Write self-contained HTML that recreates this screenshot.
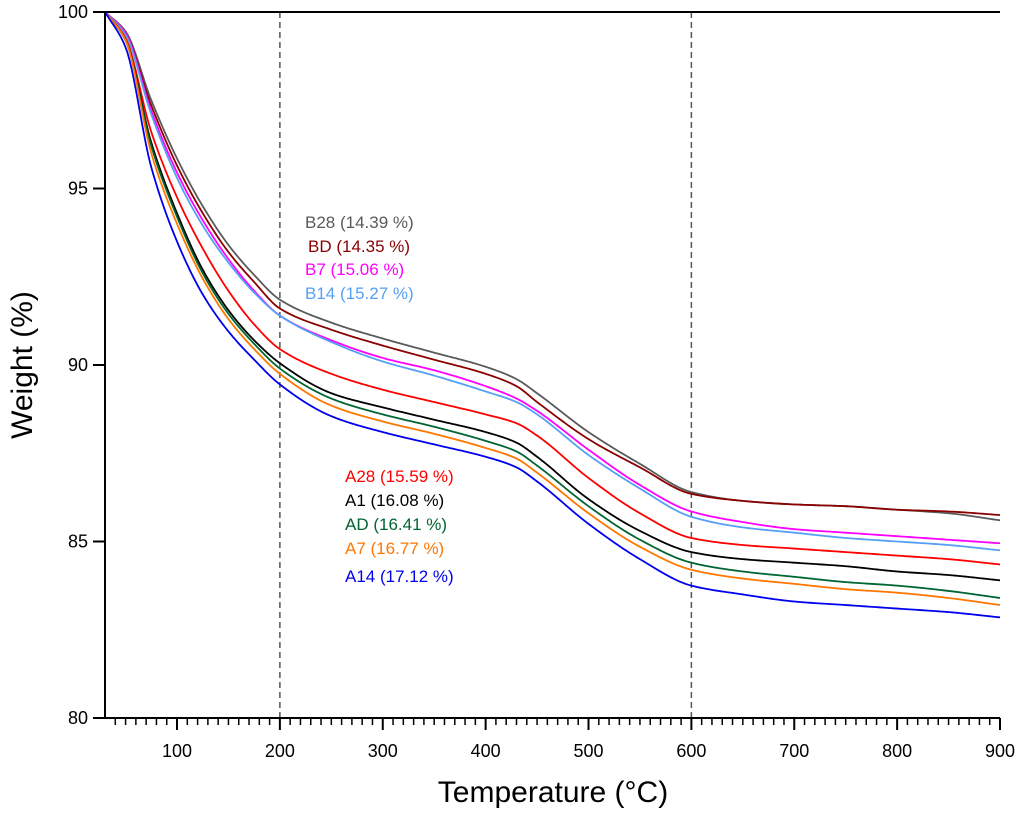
<!DOCTYPE html>
<html><head><meta charset="utf-8"><style>
html,body{margin:0;padding:0;background:#fff;}
svg text{font-family:"Liberation Sans",Arial,sans-serif;}
</style></head><body>
<svg id="chart" width="1024" height="812" xmlns="http://www.w3.org/2000/svg">
<g id="grid"></g><g id="series"></g><g id="axes"></g><g id="labels"></g>
</svg>
<script>
const temps=[30,50,75,100,125,150,175,200,250,300,350,400,430,450,500,550,600,650,700,750,800,850,900];
const seriesNames=["B28","BD","B7","B14","A28","A1","AD","A7","A14"];
const seriesLabels=["B28 (14.39 %)","BD (14.35 %)","B7 (15.06 %)","B14 (15.27 %)","A28 (15.59 %)","A1 (16.08 %)","AD (16.41 %)","A7 (16.77 %)","A14 (17.12 %)"];
const B28=[100,99.45,97.5,95.85,94.5,93.4,92.55,91.85,91.2,90.75,90.35,89.95,89.6,89.2,88.1,87.2,86.4,86.15,86.05,86.0,85.9,85.8,85.6];
const BD=[100,99.4,97.35,95.65,94.3,93.2,92.35,91.6,91.0,90.55,90.15,89.75,89.4,88.95,87.9,87.1,86.35,86.15,86.05,86.0,85.9,85.85,85.75];
const B7=[100,99.4,97.2,95.45,94.1,93.0,92.1,91.4,90.7,90.2,89.85,89.4,89.05,88.7,87.6,86.6,85.85,85.55,85.35,85.25,85.15,85.05,84.95];
const B14=[100,99.35,97.1,95.3,93.95,92.9,92.05,91.4,90.65,90.1,89.7,89.25,88.95,88.6,87.45,86.5,85.7,85.4,85.25,85.1,85.0,84.9,84.75];
const A28=[100,99.25,96.6,94.75,93.3,92.1,91.15,90.45,89.75,89.3,88.95,88.6,88.35,88.0,86.8,85.8,85.1,84.9,84.8,84.7,84.6,84.5,84.35];
const A1=[100,99.2,96.3,94.3,92.7,91.55,90.7,90.05,89.2,88.8,88.45,88.1,87.8,87.4,86.2,85.3,84.7,84.5,84.4,84.3,84.15,84.05,83.9];
const AD=[100,99.2,96.2,94.2,92.6,91.45,90.6,89.9,89.05,88.6,88.25,87.85,87.55,87.15,86.0,85.05,84.4,84.15,84.0,83.85,83.75,83.6,83.4];
const A7=[100,99.2,96.0,94.0,92.45,91.3,90.45,89.75,88.85,88.4,88.05,87.65,87.35,86.95,85.8,84.85,84.2,83.95,83.8,83.65,83.55,83.4,83.2];
const A14=[100,99.0,95.6,93.5,92.0,90.95,90.15,89.45,88.55,88.1,87.75,87.4,87.1,86.7,85.5,84.5,83.75,83.5,83.3,83.2,83.1,83.0,82.85];
const xTicks=[100,200,300,400,500,600,700,800,900];
const yTicks=[80,85,90,95,100];
const refLines=[200,600];

const NS="http://www.w3.org/2000/svg";
const X0=105,X1=1000,Y0=12,Y1=718,TMIN=30,TMAX=900,VMIN=80,VMAX=100;
const sx=t=>X0+(t-TMIN)/(TMAX-TMIN)*(X1-X0);
const sy=v=>Y1-(v-VMIN)/(VMAX-VMIN)*(Y1-Y0);
function mk(tag,attrs,parent,text){const e=document.createElementNS(NS,tag);for(const k in attrs)e.setAttribute(k,attrs[k]);if(text!==undefined)e.textContent=text;parent.appendChild(e);return e;}
const gG=document.getElementById('grid'),gS=document.getElementById('series'),gA=document.getElementById('axes'),gL=document.getElementById('labels');

refLines.forEach(t=>{const l=mk('line',{x1:sx(t),x2:sx(t),y1:Y0,y2:Y1,stroke:'#555','stroke-width':1.5,'stroke-dasharray':'6,4'},gG);

});

const data=[B28,BD,B7,B14,A28,A1,AD,A7,A14];
const colors=["#5a5a5a","#8b0000","#ff00ff","#55a0f5","#ff0000","#000000","#006633","#ff7700","#0000ee"];
function monotone(xs,ys){const n=xs.length,d=[],m=[];
for(let i=0;i<n-1;i++)d.push((ys[i+1]-ys[i])/(xs[i+1]-xs[i]));
m[0]=d[0];m[n-1]=d[n-2];
for(let i=1;i<n-1;i++){if(d[i-1]*d[i]<=0)m[i]=0;else{const h0=xs[i]-xs[i-1],h1=xs[i+1]-xs[i];const w1=2*h1+h0,w2=h1+2*h0;m[i]=(w1+w2)/(w1/d[i-1]+w2/d[i]);}}
return t=>{let i=0;while(i<n-2&&t>xs[i+1])i++;const h=xs[i+1]-xs[i],s=(t-xs[i])/h;
const h00=2*s*s*s-3*s*s+1,h10=s*s*s-2*s*s+s,h01=-2*s*s*s+3*s*s,h11=s*s*s-s*s;
return h00*ys[i]+h10*h*m[i]+h01*ys[i+1]+h11*h*m[i+1];};}
function pathFor(vals){const f=monotone(temps,vals);let d='';
for(let t=TMIN;t<=TMAX;t+=2){d+=(t===TMIN?'M':'L')+sx(t).toFixed(2)+','+sy(f(t)).toFixed(2);}return d;}
data.forEach((vals,i)=>{const p=mk('path',{d:pathFor(vals),fill:'none',stroke:colors[i],'stroke-width':1.8,'stroke-linejoin':'round'},gS);

});

const frame=mk('path',{d:`M${X0},${Y0} H${X1} M${X0},${Y0} V${Y1} M93,${Y1} H${X1}`,stroke:'#000','stroke-width':2,fill:'none'},gA);


for(let t=40;t<=900;t+=10){const major=t%100===0;mk('line',{x1:sx(t),x2:sx(t),y1:Y1,y2:Y1+(major?12:7),stroke:'#000','stroke-width':major?2:1.5},gA);}
xTicks.forEach(t=>{const e=mk('text',{x:sx(t),y:757,'font-size':18,'text-anchor':'middle'},gA,String(t));

});
yTicks.forEach(v=>{mk('line',{x1:93,x2:X0,y1:sy(v),y2:sy(v),stroke:'#000','stroke-width':2},gA);
const e=mk('text',{x:88,y:sy(v)+6,'font-size':18,'text-anchor':'end'},gA,String(v));

});
const xt=mk('text',{x:553,y:802,'font-size':30,'text-anchor':'middle'},gA,'Temperature (°C)');


const yt=mk('text',{x:0,y:0,'font-size':30,'text-anchor':'middle',transform:'translate(32,365) rotate(-90)'},gA,'Weight (%)');



const labelPos=[[305,228],[308,252],[305,275],[305,299],[345,482],[345,506],[345,530],[345,554],[345,582]];
seriesLabels.forEach((s,i)=>{const e=mk('text',{x:labelPos[i][0],y:labelPos[i][1],'font-size':17,fill:colors[i]},gL,s);

});
</script>
</body></html>
